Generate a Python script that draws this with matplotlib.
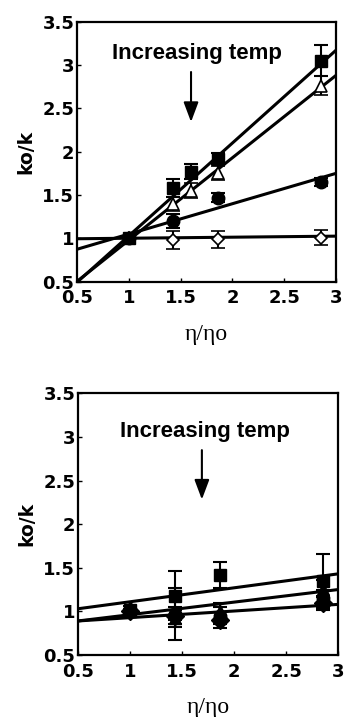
import matplotlib.pyplot as plt

# ---- top panel data ----
top_x = [1.0, 1.43, 1.6, 1.86, 2.85]
top_sq = [1.0, 1.58, 1.77, 1.92, 3.05]
top_sq_err = [0.03, 0.1, 0.09, 0.06, 0.18]
top_tri = [1.0, 1.4, 1.55, 1.75, 2.76]
top_tri_err = [0.03, 0.08, 0.09, 0.08, 0.11]
top_circ_x = [1.0, 1.43, 1.86, 2.85]
top_circ = [1.0, 1.2, 1.47, 1.65]
top_circ_err = [0.03, 0.08, 0.05, 0.05]
top_dia_x = [1.0, 1.43, 1.86, 2.85]
top_dia = [1.0, 0.98, 0.99, 1.01]
top_dia_err = [0.03, 0.1, 0.1, 0.09]
# fitted lines (slope, intercept)
top_fits = [(1.07, -0.04), (0.95, 0.03), (0.35, 0.70), (0.012, 0.99)]

# ---- bottom panel data ----
bot_x = [1.0, 1.43, 1.86, 2.85]
bot_sq = [1.02, 1.18, 1.42, 1.35]
bot_sq_err = [0.04, 0.28, 0.15, 0.31]
bot_tri = [1.0, 0.92, 1.0, 1.26]
bot_tri_err = [0.03, 0.1, 0.1, 0.1]
bot_circ = [1.0, 0.97, 0.95, 1.15]
bot_circ_err = [0.03, 0.3, 0.1, 0.1]
bot_dia = [1.0, 0.95, 0.9, 1.1]
bot_dia_err = [0.03, 0.1, 0.09, 0.08]
bot_fits = [(0.16, 0.95), (0.144, 0.818), (0.076, 0.852)]

xticks = [0.5, 1, 1.5, 2, 2.5, 3]
yticks = [0.5, 1, 1.5, 2, 2.5, 3, 3.5]

fig = plt.figure(figsize=(3.44, 7.17), dpi=100)
ax1 = fig.add_axes([0.224, 0.607, 0.753, 0.363])
ax2 = fig.add_axes([0.227, 0.0865, 0.756, 0.365])

eb = dict(color="black", capsize=4.7, capthick=1.5, elinewidth=1.5,
          linestyle="none", markersize=9)


def style_axes(ax, arrow_x, text_x, text_y, arr_y0, arr_y1):
    ax.set_xlim(0.5, 3)
    ax.set_ylim(0.5, 3.5)
    ax.set_xticks(xticks)
    ax.set_yticks(yticks)
    ax.set_xticklabels([f"{t:g}" for t in xticks], fontsize=13, fontweight="bold")
    ax.set_yticklabels([f"{t:g}" for t in yticks], fontsize=13, fontweight="bold")
    ax.tick_params(direction="in", length=3, width=1)
    ax.tick_params(axis="x", pad=5.5)
    ax.tick_params(axis="y", pad=2)
    for s in ax.spines.values():
        s.set_linewidth(1.6)
    ax.set_ylabel("ko/k", fontsize=13.5, fontweight="bold", labelpad=5)
    ax.set_xlabel("η/ηo", fontsize=17, family="Liberation Serif", labelpad=12)
    ax.text(text_x, text_y, "Increasing temp", ha="center", va="baseline",
            fontsize=16, fontweight="bold", family="Liberation Sans")
    ax.annotate("", xy=(arrow_x, arr_y1), xytext=(arrow_x, arr_y0),
                arrowprops=dict(arrowstyle="-|>,head_length=1.2,head_width=0.45",
                                color="black", lw=1.5))


def draw_fits(ax, fits):
    for m, b in fits:
        ax.plot([0.5, 3], [m * 0.5 + b, m * 3 + b], color="black", lw=2.2)


# top panel
draw_fits(ax1, top_fits)
ax1.errorbar(top_dia_x, top_dia, yerr=top_dia_err, marker="D", mfc="white",
             mec="black", mew=1.2, **{**eb, "markersize": 6})
ax1.errorbar(top_circ_x, top_circ, yerr=top_circ_err, marker="o", mfc="black", **eb)
ax1.errorbar(top_x, top_tri, yerr=top_tri_err, marker="^", mfc="white",
             mec="black", mew=1.2, **eb)
ax1.errorbar(top_x, top_sq, yerr=top_sq_err, marker="s", mfc="black", **eb)
style_axes(ax1, 1.6, 1.66, 3.07, 2.95, 2.31)

# bottom panel
draw_fits(ax2, bot_fits)
ax2.errorbar(bot_x, bot_dia, yerr=bot_dia_err, marker="D", mfc="black", **eb)
ax2.errorbar(bot_x, bot_circ, yerr=bot_circ_err, marker="o", mfc="black", **eb)
ax2.errorbar(bot_x, bot_tri, yerr=bot_tri_err, marker="^", mfc="black", **eb)
ax2.errorbar(bot_x, bot_sq, yerr=bot_sq_err, marker="s", mfc="black", **eb)
style_axes(ax2, 1.69, 1.72, 3.0, 2.88, 2.25)

fig.savefig("out.png", dpi=100)
